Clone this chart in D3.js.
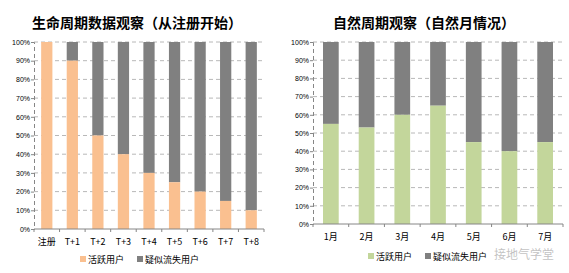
<!DOCTYPE html>
<html>
<head>
<meta charset="utf-8">
<script src="https://cdn.jsdelivr.net/npm/d3@7"></script>
<style>
  body { margin: 0; background: #fff; }
  svg { display: block; font-family: "Noto Sans CJK SC", "DejaVu Sans", sans-serif; }
</style>
</head>
<body>
<svg id="chart" width="569" height="273"></svg>
<script>
// data
var lifeCats = ["注册", "T+1", "T+2", "T+3", "T+4", "T+5", "T+6", "T+7", "T+8"];
var lifeActive = [100, 90, 50, 40, 30, 25, 20, 15, 10];
var monthCats = ["1月", "2月", "3月", "4月", "5月", "6月", "7月"];
var monthActive = [55, 53, 60, 65, 45, 40, 45];
var yTicks = [0, 10, 20, 30, 40, 50, 60, 70, 80, 90, 100];
var seriesNames = ["活跃用户", "疑似流失用户"];

var svg = d3.select("#chart");

function drawPanel(opt) {
  var g = svg.append("g");

  var x = d3.scaleBand()
    .domain(opt.cats)
    .range([opt.left, opt.right])
    .paddingInner(0.56)
    .paddingOuter(0.28);

  var y = d3.scaleLinear()
    .domain([0, 100])
    .range([opt.bottom, opt.top]);

  // title
  g.append("text")
    .attr("x", opt.titleX).attr("y", 28)
    .attr("text-anchor", "middle")
    .style("font-size", "14px").style("font-weight", "bold")
    .text(opt.title);

  // dashed gridlines
  g.selectAll(".grid")
    .data(yTicks.filter(function (d) { return d > 0; }))
    .enter().append("line")
    .attr("x1", opt.left).attr("x2", opt.right)
    .attr("y1", function (d) { return y(d); })
    .attr("y2", function (d) { return y(d); })
    .attr("stroke", "#b8b8b8")
    .attr("stroke-dasharray", "4,3");

  // stacked bars: active at bottom, lost on top
  var rows = opt.cats.map(function (c, i) {
    return { cat: c, active: opt.active[i], lost: 100 - opt.active[i] };
  });

  g.selectAll(".lost")
    .data(rows)
    .enter().append("rect")
    .attr("x", function (d) { return x(d.cat); })
    .attr("width", x.bandwidth())
    .attr("y", function (d) { return y(100); })
    .attr("height", function (d) { return y(d.active) - y(100); })
    .attr("fill", "#808080");

  g.selectAll(".active")
    .data(rows)
    .enter().append("rect")
    .attr("x", function (d) { return x(d.cat); })
    .attr("width", x.bandwidth())
    .attr("y", function (d) { return y(d.active); })
    .attr("height", function (d) { return y(0) - y(d.active); })
    .attr("fill", opt.color);

  // y axis
  var yAxis = g.append("g")
    .attr("transform", "translate(" + opt.left + ",0)")
    .call(d3.axisLeft(y).tickValues(yTicks).tickSize(3).tickFormat(function (d) { return d + "%"; }));
  yAxis.select(".domain").attr("stroke", "#868686").attr("stroke-dasharray", "4,3");
  yAxis.selectAll(".tick line").attr("stroke", "#868686");
  yAxis.selectAll("text")
    .style("font-size", "7px").style("font-family", "Arial, 'Liberation Sans', sans-serif")
    .attr("x", -4).attr("fill", "#000");

  // x axis, ticks sit on category boundaries
  g.append("line")
    .attr("x1", opt.left).attr("x2", opt.right)
    .attr("y1", opt.bottom).attr("y2", opt.bottom)
    .attr("stroke", "#868686");
  g.selectAll(".xtick")
    .data(d3.range(opt.cats.length + 1))
    .enter().append("line")
    .attr("x1", function (i) { return opt.left + (opt.right - opt.left) * i / opt.cats.length; })
    .attr("x2", function (i) { return opt.left + (opt.right - opt.left) * i / opt.cats.length; })
    .attr("y1", opt.bottom).attr("y2", opt.bottom + 3)
    .attr("stroke", "#868686");

  g.selectAll(".xlab")
    .data(opt.cats)
    .enter().append("text")
    .attr("x", function (d) { return x(d) + x.bandwidth() / 2; })
    .attr("y", opt.bottom + 16)
    .attr("text-anchor", "middle")
    .style("font-size", "9px")
    .text(function (d) { return d; });

  // legend
  var lg = g.append("g").attr("transform", "translate(" + opt.legendX + "," + opt.legendY + ")");
  lg.append("rect").attr("x", 0).attr("y", -4).attr("width", 6).attr("height", 6).attr("fill", opt.color);
  lg.append("text").attr("x", 8).attr("y", 3).style("font-size", "9px").text(seriesNames[0]);
  lg.append("rect").attr("x", 57).attr("y", -4).attr("width", 6).attr("height", 6).attr("fill", "#808080");
  lg.append("text").attr("x", 65).attr("y", 3).style("font-size", "9px").text(seriesNames[1]);
}

drawPanel({
  cats: lifeCats, active: lifeActive, color: "#fac090",
  left: 34, right: 264, top: 42, bottom: 229,
  title: "生命周期数据观察（从注册开始）", titleX: 137,
  legendX: 80, legendY: 260
});

drawPanel({
  cats: monthCats, active: monthActive, color: "#c3d69b",
  left: 313, right: 563, top: 42, bottom: 224,
  title: "自然周期观察（自然月情况）", titleX: 424,
  legendX: 368, legendY: 257
});

// watermark
svg.append("text")
  .attr("x", 494).attr("y", 259)
  .style("font-size", "12px")
  .attr("fill", "#999").attr("fill-opacity", 0.6)
  .text("接地气学堂");
</script>
</body>
</html>
